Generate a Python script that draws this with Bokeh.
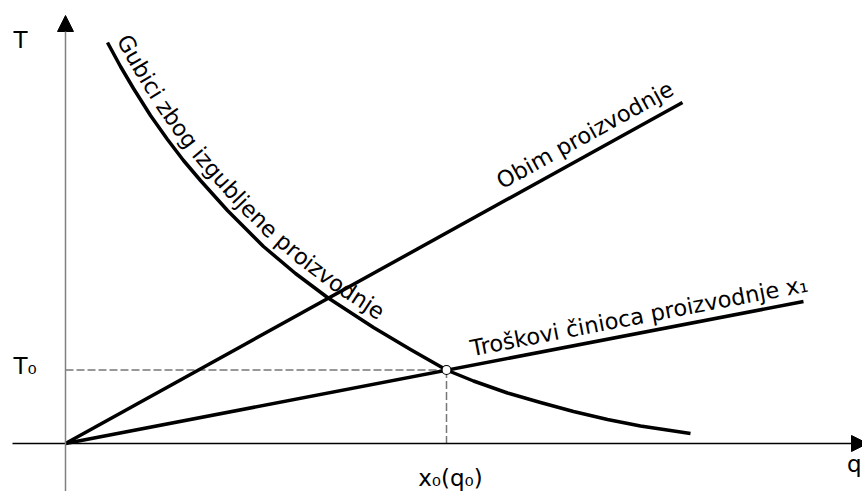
import numpy as np
from bokeh.plotting import figure
from bokeh.models import Range1d, Arrow, NormalHead
from bokeh.core.properties import value
from bokeh.embed import file_html
from bokeh.resources import INLINE

# ---------------- data (arbitrary units) ----------------
GUBICI_Q = [42, 55, 68, 85, 102, 118, 135, 162, 198, 230, 262, 308, 345, 381,
            408, 442, 475, 508, 542, 575, 625]
GUBICI_T = [401, 377, 355, 328, 304, 283, 263, 233, 197, 170, 146, 116, 94, 73.5,
            62.5, 50.5, 41, 32, 24, 17.5, 10]
OBIM_Q = [0, 617]
OBIM_T = [0, 341]
TROS_Q = [0, 738]
TROS_T = [0, 142]
Q0 = 381
T0 = 73.5

LABEL_GUBICI = "Gubici zbog izgubljene proizvodnje"
LABEL_OBIM = "Obim proizvodnje"
LABEL_TROS = "Troškovi činioca proizvodnje x₁"
LABEL_T = "T"
LABEL_Q = "q"
LABEL_T0 = "T₀"
LABEL_X0 = "x₀(q₀)"

# ---------------- layout ----------------
W, H = 862, 491
X0, X1 = -65, 797
Y0, Y1 = -48, 443
PX = W / (X1 - X0)
PY = H / (Y1 - Y0)
FONT = value("DejaVu Sans")
FS = "22.5px"
FIX = 8.0          # baseline correction (px)

p = figure(width=W, height=H, x_range=Range1d(X0, X1), y_range=Range1d(Y0, Y1),
           output_backend="svg", toolbar_location=None, min_border=0,
           x_axis_type=None, y_axis_type=None)
p.outline_line_color = None
p.background_fill_color = "white"

# axes with arrows
p.add_layout(Arrow(end=NormalHead(size=16, fill_color="black", line_color="black", line_width=1),
                   x_start=-53, y_start=0, x_end=X1 + 5, y_end=0,
                   line_color="black", line_width=1.3))
p.add_layout(Arrow(end=NormalHead(size=16, fill_color="black", line_color="black", line_width=1),
                   x_start=0, y_start=Y0 - 5, x_end=0, y_end=Y1 - 15,
                   line_color="#808080", line_width=1.5))

# dashed guides
p.line([0, Q0], [T0, T0], line_dash="8 3", line_color="#777777", line_width=1.5)
p.line([Q0, Q0], [T0, 0], line_dash="8 3", line_color="#777777", line_width=1.5)

# curves
for qs, ts in ((OBIM_Q, OBIM_T), (TROS_Q, TROS_T), (GUBICI_Q, GUBICI_T)):
    p.line(qs, ts, line_color="black", line_width=3.5, line_join="round", line_cap="butt")

p.scatter([Q0], [T0], size=9, fill_color="white", line_color="black", line_width=1.2)


# ---------------- labels along straight lines ----------------
def line_label(qs, ts, text, frac, off, align):
    dx = (qs[1] - qs[0]) * PX
    dy = (ts[1] - ts[0]) * PY
    L = np.hypot(dx, dy)
    th = np.arctan2(dy, dx)
    ux, uy = np.cos(th), np.sin(th)
    nx, ny = -uy, ux
    bx = qs[0] * PX + ux * L * frac + nx * off
    by = ts[0] * PY + uy * L * frac + ny * off
    p.text([bx / PX], [by / PY], text=[text], angle=th, text_align=align,
           text_baseline="alphabetic", text_font=FONT, text_font_size=FS,
           text_color="black")


line_label(OBIM_Q, OBIM_T, LABEL_OBIM, 0.997, 11 + FIX, "right")
line_label(TROS_Q, TROS_T, LABEL_TROS, 0.553, 9 + FIX, "left")

# ---------------- label along the curve ----------------
ADV = {" ": .318, "G": .776, "u": .634, "b": .635, "i": .278, "c": .550, "z": .525,
       "o": .612, "g": .635, "l": .278, "j": .278, "e": .615, "n": .634, "p": .635,
       "r": .411, "v": .592, "d": .635}
fs_px = 22.5
sx = np.array(GUBICI_Q, float) * PX
sy = np.array(GUBICI_T, float) * PY
seg = np.hypot(np.diff(sx), np.diff(sy))
cum = np.concatenate([[0.0], np.cumsum(seg)])


def point_at(s):
    s = min(max(s, 0.0), cum[-1])
    i = min(max(np.searchsorted(cum, s) - 1, 0), len(seg) - 1)
    f = (s - cum[i]) / seg[i]
    return sx[i] + f * (sx[i + 1] - sx[i]), sy[i] + f * (sy[i + 1] - sy[i])


cx, cy, ca, ct = [], [], [], []
s = 2.0
OFF = 9 + FIX
for ch in LABEL_GUBICI:
    w = ADV.get(ch, 0.6) * fs_px
    sc = s + w / 2
    xa, ya = point_at(sc - 9)
    xb, yb = point_at(sc + 9)
    a = np.arctan2(yb - ya, xb - xa)
    x, y = point_at(sc)
    nx, ny = -np.sin(a), np.cos(a)
    if ch != " ":
        cx.append((x + nx * OFF) / PX)
        cy.append((y + ny * OFF) / PY)
        ca.append(a)
        ct.append(ch)
    s += w
p.text(cx, cy, text=ct, angle=ca, text_align="center", text_baseline="alphabetic",
       text_font=FONT, text_font_size=FS, text_color="black")

# ---------------- axis labels ----------------
p.text([0], [Y1 - 15], text=[LABEL_T], x_offset=-52, y_offset=32 - FIX, text_align="left",
       text_baseline="alphabetic", text_font=FONT, text_font_size="23px", text_color="black")
p.text([0], [T0], text=[LABEL_T0], x_offset=-52, y_offset=4 - FIX, text_align="left",
       text_baseline="alphabetic", text_font=FONT, text_font_size="23px", text_color="black")
p.text([X1 - 1], [0], text=[LABEL_Q], x_offset=0, y_offset=28 - FIX, text_align="right",
       text_baseline="alphabetic", text_font=FONT, text_font_size="23px", text_color="black")
p.text([Q0], [0], text=[LABEL_X0], x_offset=4, y_offset=42 - FIX, text_align="center",
       text_baseline="alphabetic", text_font=FONT, text_font_size="23px", text_color="black")

open("out.html", "w").write(file_html(p, INLINE))
